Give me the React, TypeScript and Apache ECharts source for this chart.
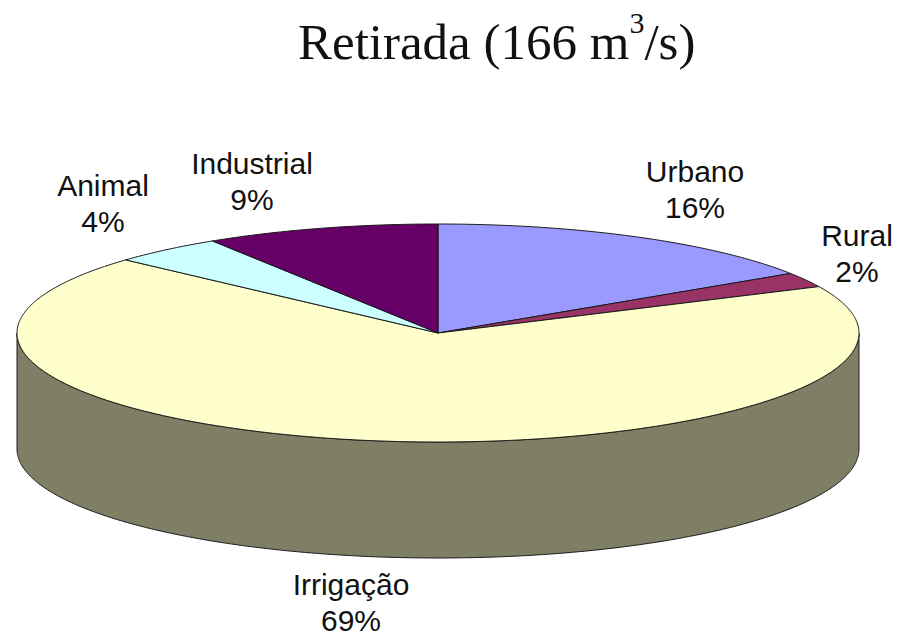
import React, { useEffect, useRef } from "react";
import * as echarts from "echarts";

const categories = ["Urbano", "Rural", "Irrigação", "Animal", "Industrial"];
const shares = [15.8, 2.2, 68.7, 4.3, 9.0];
const percentLabels = ["16%", "2%", "69%", "4%", "9%"];
const topColors = ["#9999FF", "#993366", "#FFFFCC", "#CCFFFF", "#660066"];
const wallColors = ["#4C4C7F", "#4C1933", "#7F7F66", "#667F7F", "#330033"];

const CX = 438, CY = 333, RX = 421, RY = 109, DEPTH = 116;
const labelAnchors = [
  [695, 189], [857, 253], [351, 602], [103, 203], [252, 181],
];

const pt = (deg: number, dy = 0): number[] => {
  const a = (deg * Math.PI) / 180;
  return [CX + RX * Math.sin(a), CY - RY * Math.cos(a) + dy];
};
const arc = (from: number, to: number, dy = 0): number[][] => {
  const pts: number[][] = [];
  const n = Math.max(2, Math.ceil(Math.abs(to - from) * 2));
  for (let i = 0; i <= n; i++) pts.push(pt(from + ((to - from) * i) / n, dy));
  return pts;
};

export default function App() {
  const ref = useRef<HTMLDivElement>(null);
  useEffect(() => {
    document.body.style.margin = "0";
    const chart = echarts.init(ref.current!, undefined, { renderer: "svg" });
    const total = shares.reduce((s, v) => s + v, 0);
    const line = { stroke: "#1a1a1a", lineWidth: 1 };
    const labelStyle = {
      align: "center",
      verticalAlign: "middle",
      fontFamily: "Liberation Sans",
      fontSize: 30,
      lineHeight: 26,
      fill: "#111111",
    };
    chart.setOption({
      animation: false,
      backgroundColor: "#ffffff",
      title: {
        left: 293,
        top: 2,
        text: "{a|Retirada (166 m}{b|3}{a|/s)}",
        textStyle: {
          fontWeight: "normal",
          rich: {
            a: { fontFamily: "Liberation Serif", fontWeight: "normal", fontSize: 51, color: "#111111", lineHeight: 60, verticalAlign: "bottom" },
            b: { fontFamily: "Liberation Serif", fontWeight: "normal", fontSize: 30, color: "#111111", lineHeight: 30, verticalAlign: "top" },
          },
        },
      },
      series: [
        {
          type: "custom",
          coordinateSystem: "none",
          silent: true,
          data: shares.map((v, i) => ({ value: [v, i], name: categories[i] })),
          renderItem: (_p: any, api: any) => {
            const v = api.value(0) as number;
            const i = api.value(1) as number;
            let before = 0;
            for (let k = 0; k < i; k++) before += shares[k];
            const start = (before / total) * 360;
            const end = ((before + v) / total) * 360;
            const children: any[] = [];
            const ws = Math.max(start, 90);
            const we = Math.min(end, 270);
            if (we > ws) {
              children.push({
                type: "polygon",
                z2: 1,
                shape: { points: [...arc(ws, we), ...arc(we, ws, DEPTH)] },
                style: { fill: wallColors[i], ...line },
              });
            }
            children.push({
              type: "polygon",
              z2: 2,
              shape: { points: [[CX, CY], ...arc(start, end)] },
              style: { fill: topColors[i], ...line },
            });
            children.push({
              type: "text",
              z2: 3,
              style: { ...labelStyle, text: categories[i], x: labelAnchors[i][0], y: labelAnchors[i][1] - 18 },
            });
            children.push({
              type: "text",
              z2: 3,
              style: { ...labelStyle, text: percentLabels[i], x: labelAnchors[i][0], y: labelAnchors[i][1] + 18 },
            });
            return { type: "group", children };
          },
        },
      ],
    });
    return () => chart.dispose();
  }, []);
  return <div ref={ref} style={{ width: 897, height: 634 }} />;
}
